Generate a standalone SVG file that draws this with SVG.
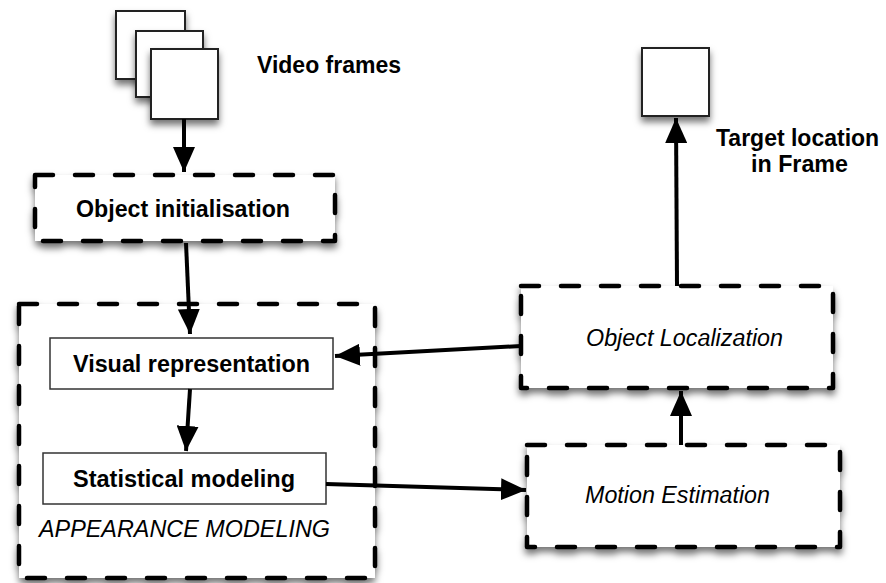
<svg xmlns="http://www.w3.org/2000/svg" width="886" height="583" viewBox="0 0 886 583">
  <defs>
    <filter id="shadow" x="-20%" y="-20%" width="140%" height="150%">
      <feDropShadow dx="0" dy="5" stdDeviation="3.5" flood-color="#000" flood-opacity="0.55"/>
    </filter>
    <marker id="arrow" markerUnits="userSpaceOnUse" markerWidth="26" markerHeight="22" refX="25" refY="11" orient="auto">
      <path d="M0,0 L25,11 L0,22 z" fill="#000"/>
    </marker>
    <style>
      .bg { fill: #fff; }
      .dashed { fill: #fff; stroke: #000; stroke-width: 4.5; stroke-dasharray: 18 22; stroke-linecap: round; stroke-linejoin: round; filter: url(#shadow); }
      .frame { fill: #fff; stroke: #222; stroke-width: 2; filter: url(#shadow); }
      .inner { fill: #fff; stroke: #333; stroke-width: 1.5; }
      .bold { font-family: "Liberation Sans", Arial, Helvetica, sans-serif; font-weight: bold; font-size: 23px; fill: #000; }
      .ital { font-family: "Liberation Sans", Arial, Helvetica, sans-serif; font-style: italic; font-size: 23px; fill: #000; }
      .conn { stroke: #000; stroke-width: 4; fill: none; marker-end: url(#arrow); }
    </style>
  </defs>

  <rect class="bg" x="0" y="0" width="886" height="583"/>

  <!-- stack of input frames -->
  <g id="video-frames">
    <rect class="frame" x="116" y="11" width="69" height="68"/>
    <rect class="frame" x="136" y="31" width="67" height="66"/>
    <rect class="frame" x="151" y="49" width="67" height="70"/>
    <text class="bold" x="257" y="73" textLength="144" lengthAdjust="spacingAndGlyphs">Video frames</text>
  </g>

  <!-- output frame -->
  <g id="target-location">
    <rect class="frame" x="642" y="48" width="67" height="68"/>
    <text class="bold" x="716" y="146">Target location</text>
    <text class="bold" x="751" y="172" textLength="97" lengthAdjust="spacingAndGlyphs">in Frame</text>
  </g>

  <g id="object-initialisation">
    <rect class="dashed" x="35" y="175" width="300" height="66"/>
    <text class="bold" x="76" y="217" textLength="214" lengthAdjust="spacingAndGlyphs">Object initialisation</text>
  </g>

  <g id="appearance-modeling">
    <rect class="dashed" x="19" y="304" width="356" height="274"/>
    <text class="ital" x="39" y="537" textLength="291" lengthAdjust="spacingAndGlyphs">APPEARANCE MODELING</text>
  </g>

  <g id="visual-representation">
    <rect class="inner" x="50" y="338" width="283" height="51"/>
    <text class="bold" x="73" y="372" textLength="237" lengthAdjust="spacingAndGlyphs">Visual representation</text>
  </g>

  <g id="statistical-modeling">
    <rect class="inner" x="43" y="453" width="283" height="51"/>
    <text class="bold" x="73" y="487" textLength="222" lengthAdjust="spacingAndGlyphs">Statistical modeling</text>
  </g>

  <g id="object-localization">
    <rect class="dashed" x="521" y="286" width="312" height="102"/>
    <text class="ital" x="586" y="346" textLength="197" lengthAdjust="spacingAndGlyphs">Object Localization</text>
  </g>

  <g id="motion-estimation">
    <rect class="dashed" x="527" y="445" width="313" height="102"/>
    <text class="ital" x="585" y="503" textLength="185" lengthAdjust="spacingAndGlyphs">Motion Estimation</text>
  </g>

  <g id="connectors">
    <line class="conn" x1="184" y1="119" x2="184" y2="172"/>
    <line class="conn" x1="186" y1="243" x2="190" y2="334"/>
    <line class="conn" x1="190" y1="389" x2="186" y2="451"/>
    <line class="conn" x1="326" y1="484" x2="526" y2="490"/>
    <line class="conn" x1="681" y1="445" x2="681" y2="391"/>
    <line class="conn" x1="521" y1="346" x2="335" y2="356"/>
    <line class="conn" x1="677" y1="286" x2="676" y2="118"/>
  </g>
</svg>
